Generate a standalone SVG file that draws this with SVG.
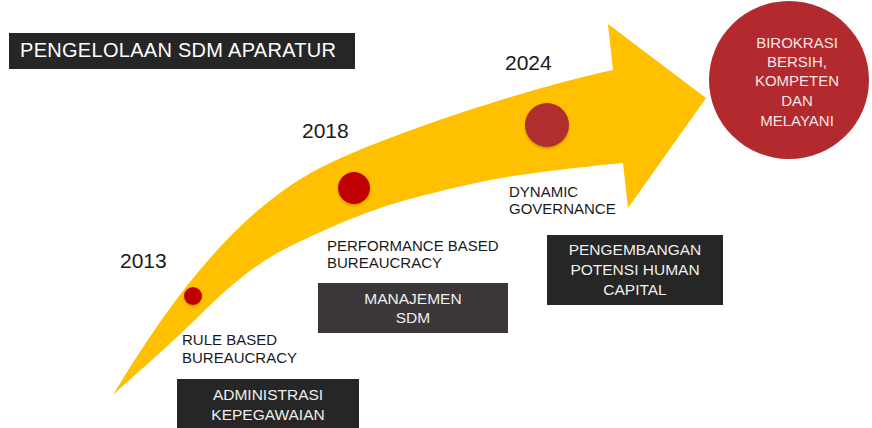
<svg xmlns="http://www.w3.org/2000/svg" width="872" height="428" viewBox="0 0 872 428">
<defs>
<style>
.t{font-family:"Liberation Sans",Arial,sans-serif}
.yr{font-size:21px;fill:#1a1a1a}
.lbl{font-size:15px;fill:#1a1a1a}
.bx{font-size:15.5px;fill:#eeeeee;text-anchor:middle}
.goal{font-size:15px;fill:#f6e4e4;text-anchor:middle}
</style>
<filter id="sh" x="-30%" y="-30%" width="160%" height="170%">
<feDropShadow dx="0" dy="1.5" stdDeviation="1" flood-color="#7a5a00" flood-opacity="0.45"/>
</filter>
</defs>
<rect width="872" height="428" fill="#ffffff"/>

<g id="arrow">
<path fill="#FFC000" d="M113,395 C170,300 240,205 330,163 C400,130 530,88 613,70 L608,24 L706,98 L628,208 L623,163 C580,167 520,174 490,180 C460,186 410,198 383,207 C350,218 310,236 283,250 C255,264 225,290 200,315 C175,340 135,375 113,395 Z"/>
</g>

<g id="title">
<rect x="9" y="33" width="346" height="36" fill="#262626"/>
<text class="t" x="20" y="57" font-size="20" fill="#ffffff" textLength="316">PENGELOLAAN SDM APARATUR</text>
</g>

<g id="goal">
<ellipse cx="789" cy="80" rx="80" ry="79" fill="#B22A2E"/>
<text class="t goal" x="797" y="48">BIROKRASI</text>
<text class="t goal" x="797" y="67">BERSIH,</text>
<text class="t goal" x="797" y="86">KOMPETEN</text>
<text class="t goal" x="797" y="106">DAN</text>
<text class="t goal" x="797" y="126">MELAYANI</text>
</g>

<g id="m2013">
<circle cx="193" cy="296" r="9" fill="#C00000" filter="url(#sh)"/>
<text class="t yr" x="120" y="268">2013</text>
<text class="t lbl" x="182" y="345">RULE BASED</text>
<text class="t lbl" x="182" y="363">BUREAUCRACY</text>
</g>

<g id="m2018">
<circle cx="354" cy="188" r="16" fill="#C00000" filter="url(#sh)"/>
<text class="t yr" x="302" y="138">2018</text>
<text class="t lbl" x="327" y="251">PERFORMANCE BASED</text>
<text class="t lbl" x="327" y="268">BUREAUCRACY</text>
</g>

<g id="m2024">
<circle cx="547" cy="125" r="22" fill="#B22E2E" filter="url(#sh)"/>
<text class="t yr" x="505" y="70">2024</text>
<text class="t lbl" x="509" y="197">DYNAMIC</text>
<text class="t lbl" x="509" y="214">GOVERNANCE</text>
</g>

<g id="box-admin">
<rect x="177" y="379" width="182" height="60" fill="#262626"/>
<text class="t bx" x="268" y="400">ADMINISTRASI</text>
<text class="t bx" x="268" y="420">KEPEGAWAIAN</text>
</g>

<g id="box-manajemen">
<rect x="318" y="283" width="190" height="50" fill="#3B3738"/>
<text class="t bx" x="413" y="304">MANAJEMEN</text>
<text class="t bx" x="413" y="323">SDM</text>
</g>

<g id="box-pengembangan">
<rect x="547" y="235" width="176" height="70" fill="#262626"/>
<text class="t bx" x="635" y="255">PENGEMBANGAN</text>
<text class="t bx" x="635" y="275">POTENSI HUMAN</text>
<text class="t bx" x="635" y="295">CAPITAL</text>
</g>

<g id="connectors"></g>
</svg>
